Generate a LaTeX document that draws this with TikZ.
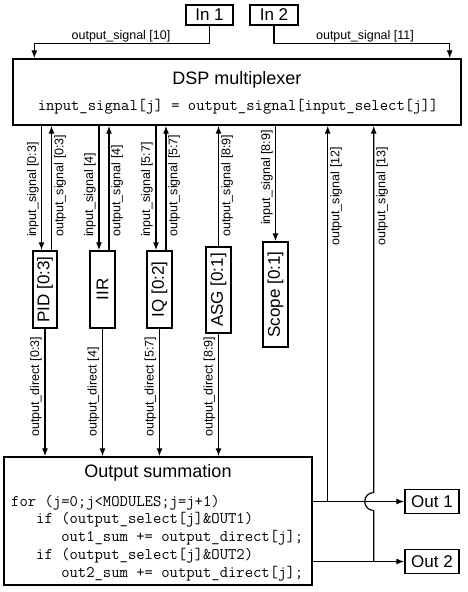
\documentclass[tikz,border=0pt]{standalone}
\usepackage{fontspec}
\setmainfont{Liberation Sans}
\usetikzlibrary{arrows.meta,calc}

\tikzset{
  blk/.style={draw=black,line width=1.4pt,inner sep=0pt},
  sig/.style={line width=1.2pt,-{Latex[length=8pt,width=6pt]}},
  wire/.style={line width=1.2pt},
  lbl/.style={font=\fontsize{12.5}{14}\selectfont,inner sep=1pt},
  vlbl/.style={lbl,rotate=90},
  ttl/.style={font=\fontsize{18}{20}\selectfont},
  modtxt/.style={font=\fontsize{17}{19}\selectfont},
  codetxt/.style={font=\ttfamily\fontsize{16.2}{17}\selectfont,inner sep=0pt}
}

\begin{document}
\begin{tikzpicture}[x=1pt,y=-1pt]
\path[use as bounding box] (0,0) rectangle (467,592);
% inputs, outputs
\node[blk,modtxt,minimum width=47pt,minimum height=20pt] (in1) at (209.5,15) {In 1};
\node[blk,modtxt,minimum width=48pt,minimum height=20pt] (in2) at (274,15) {In 2};
\node[blk,modtxt,minimum width=54pt,minimum height=24pt] (out1) at (432,501.5) {Out 1};
\node[blk,modtxt,minimum width=54pt,minimum height=24pt] (out2) at (432,561.5) {Out 2};
% multiplexer
\node[blk,minimum width=448pt,minimum height=66pt] (mux) at (237,92) {};
\node[ttl] (muxttl) at (237,80) {DSP multiplexer};
\node[codetxt] (muxcode) at (238,107) {input\_signal[j] = output\_signal[input\_select[j]]};
% modules
\node[blk,modtxt,minimum width=24pt,minimum height=77pt] (pid) at (45,289.5) {\rotatebox{90}{PID [0:3]}};
\node[blk,modtxt,minimum width=25pt,minimum height=77pt] (iir) at (102.5,289.5) {\rotatebox{90}{IIR}};
\node[blk,modtxt,minimum width=25pt,minimum height=77pt] (iq) at (159.5,289.5) {\rotatebox{90}{IQ [0:2]}};
\node[blk,modtxt,minimum width=25pt,minimum height=86pt] (asg) at (218.5,290) {\rotatebox{90}{ASG [0:1]}};
\node[blk,modtxt,minimum width=25pt,minimum height=105pt] (scope) at (275.5,294.5) {\rotatebox{90}{Scope [0:1]}};
% summation
\node[blk,minimum width=308pt,minimum height=128pt] (sum) at (158,521) {};
\node[ttl] (sumttl) at (158,473) {Output summation};
\node[codetxt,anchor=base west] (sumc1) at (11,506) {for (j=0;j<MODULES;j=j+1)};
\node[codetxt,anchor=base west] (sumc2) at (11,523.5) {\ \ \ if (output\_select[j]\&OUT1)};
\node[codetxt,anchor=base west] (sumc3) at (11,541) {\ \ \ \ \ \ out1\_sum += output\_direct[j];};
\node[codetxt,anchor=base west] (sumc4) at (11,559) {\ \ \ if (output\_select[j]\&OUT2)};
\node[codetxt,anchor=base west] (sumc5) at (11,577) {\ \ \ \ \ \ out2\_sum += output\_direct[j];};

% top connections
\draw[sig] (in1.south) -- ++(0,18) -| ([xshift=22pt]mux.north west);
\draw[sig] (in2.south) -- ++(0,18) -| ([xshift=-12pt]mux.north east);
\node[lbl,anchor=south] (l10) at (121,43) {output\_signal [10]};
\node[lbl,anchor=south] (l11) at (365,43) {output\_signal [11]};

% mux <-> modules
\foreach \m in {pid,iir,iq}{
  \draw[sig] ([xshift=-3.5pt]\m.north |- mux.south) -- ([xshift=-3.5pt]\m.north);
  \draw[sig] ([xshift=6.5pt]\m.north) -- ([xshift=6.5pt]\m.north |- mux.south);
}
\draw[sig] (asg.north) -- (asg.north |- mux.south);
\draw[sig] (scope.north |- mux.south) -- (scope.north);
\foreach \m in {pid,iir,iq,asg}
  \draw[sig] (\m.south) -- (\m.south |- sum.north);

\node[vlbl,anchor=south west] (li1) at (40,238) {input\_signal [0:3]};
\node[vlbl,anchor=north west] (lo1) at (53,238) {output\_signal [0:3]};
\node[vlbl,anchor=south west] (li2) at (97,238) {input\_signal [4]};
\node[vlbl,anchor=north west] (lo2) at (110,238) {output\_signal [4]};
\node[vlbl,anchor=south west] (li3) at (154,238) {input\_signal [5:7]};
\node[vlbl,anchor=north west] (lo3) at (167,238) {output\_signal [5:7]};
\node[vlbl,anchor=north west] (lo4) at (220,238) {output\_signal [8:9]};
\node[vlbl,anchor=south west] (li5) at (274,226) {input\_signal [8:9]};
\node[vlbl,anchor=north west] (lo12) at (329,247) {output\_signal [12]};
\node[vlbl,anchor=north west] (lo13) at (375,247) {output\_signal [13]};

\node[vlbl,anchor=south west] (ld1) at (43,438) {output\_direct [0:3]};
\node[vlbl,anchor=south west] (ld2) at (100.5,438) {output\_direct [4]};
\node[vlbl,anchor=south west] (ld3) at (157.5,438) {output\_direct [5:7]};
\node[vlbl,anchor=south west] (ld4) at (216.5,438) {output\_direct [8:9]};

% outputs
\draw[sig] (sum.east |- out1.west) -- (out1.west);
\draw[sig] (sum.east |- out2.west) -- (out2.west);
\coordinate (tap12) at ($(sum.east |- out1.west)+(15,0)$);
\coordinate (tap13) at ($(sum.east |- out2.west)+(61,0)$);
\coordinate (hop) at (tap13 |- out1.west);
\draw[sig] (tap12) -- (tap12 |- mux.south);
\draw[sig] (tap13) -- ([yshift=-9pt]hop) arc[start angle=270,end angle=90,radius=9pt] -- (tap13 |- mux.south);
\end{tikzpicture}
\end{document}
